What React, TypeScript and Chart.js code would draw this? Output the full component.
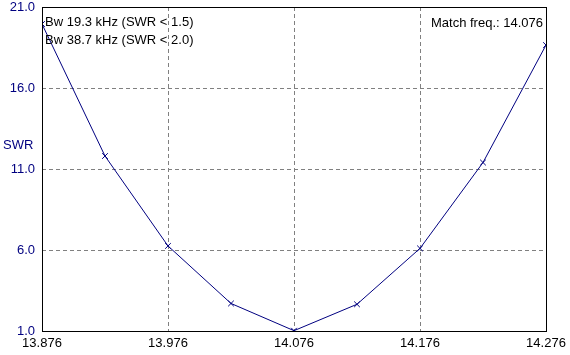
import React, { useEffect, useRef } from "react";
import { Chart, registerables } from "chart.js";

Chart.register(...registerables);

const freqs = [13.876, 13.926, 13.976, 14.026, 14.076, 14.126, 14.176, 14.226, 14.276];
const swr = [19.95, 11.8, 6.25, 2.7, 1.02, 2.65, 6.1, 11.4, 18.65];
const xTicks = [13.876, 13.976, 14.076, 14.176, 14.276];
const yTicks = [1, 6, 11, 16, 21];
const infoLines = ["Bw 19.3 kHz (SWR < 1.5)", "Bw 38.7 kHz (SWR < 2.0)"];
const matchText = "Match freq.: 14.076";
const yTitle = "SWR";

const FONT = "13px 'Liberation Sans', Arial, sans-serif";
const NAVY = "#000080";

export default function App() {
  const ref = useRef<HTMLCanvasElement | null>(null);
  useEffect(() => {
    document.body.style.margin = "0";
    const canvas = ref.current!;
    const overlay = {
      id: "overlay",
      afterDraw(chart: any) {
        const { ctx, chartArea: a } = chart;
        ctx.save();
        ctx.strokeStyle = "#000";
        ctx.lineWidth = 1;
        ctx.strokeRect(Math.round(a.left) + 0.5, Math.round(a.top) + 0.5, Math.round(a.right - a.left), Math.round(a.bottom - a.top));
        ctx.font = FONT;
        ctx.textBaseline = "middle";
        ctx.fillStyle = "#000";
        ctx.textAlign = "left";
        ctx.fillText(infoLines[0], a.left + 3, 22);
        ctx.fillText(infoLines[1], a.left + 3, 40);
        ctx.textAlign = "right";
        ctx.fillText(matchText, a.right - 3, 23);
        ctx.fillStyle = NAVY;
        ctx.textAlign = "left";
        ctx.fillText(yTitle, 3, 145);
        ctx.restore();
      },
    };
    const chart = new Chart(canvas, {
      type: "line",
      data: {
        datasets: [
          {
            data: freqs.map((f, i) => ({ x: f, y: swr[i] })),
            borderColor: NAVY,
            borderWidth: 1,
            pointStyle: "crossRot",
            pointRadius: 4,
            pointBorderColor: NAVY,
            pointBorderWidth: 1,
            tension: 0,
            fill: false,
          },
        ],
      },
      options: {
        responsive: false,
        animation: false,
        layout: { padding: { top: 7, right: 24, left: 0, bottom: 0 } },
        plugins: { legend: { display: false }, tooltip: { enabled: false } },
        scales: {
          x: {
            type: "linear",
            min: xTicks[0],
            max: xTicks[xTicks.length - 1],
            afterBuildTicks: (s: any) => {
              s.ticks = xTicks.map((v) => ({ value: v }));
            },
            afterFit: (s: any) => {
              s.height = 24;
              s.paddingLeft = 0;
              s.paddingRight = 0;
            },
            ticks: {
              color: "#000",
              font: { family: "'Liberation Sans', Arial, sans-serif", size: 13 },
              padding: 5,
              maxRotation: 0,
              autoSkip: false,
              callback: (v: any) => Number(v).toFixed(3),
            },
            grid: {
              drawTicks: false,
              color: (c: any) => (c.index === 0 || c.index === xTicks.length - 1 ? "rgba(0,0,0,0)" : "#808080"),
              lineWidth: 1,
            },
            border: { display: false, dash: [4, 3] },
          },
          y: {
            type: "linear",
            min: yTicks[0],
            max: yTicks[yTicks.length - 1],
            afterBuildTicks: (s: any) => {
              s.ticks = yTicks.map((v) => ({ value: v }));
            },
            afterFit: (s: any) => {
              s.width = 42;
              s.paddingTop = 0;
              s.paddingBottom = 0;
            },
            ticks: {
              color: NAVY,
              font: { family: "'Liberation Sans', Arial, sans-serif", size: 13 },
              padding: 7,
              autoSkip: false,
              callback: (v: any) => Number(v).toFixed(1),
            },
            grid: {
              drawTicks: false,
              color: (c: any) => (c.index === 0 || c.index === yTicks.length - 1 ? "rgba(0,0,0,0)" : "#808080"),
              lineWidth: 1,
            },
            border: { display: false, dash: [4, 3] },
          },
        },
      } as any,
      plugins: [overlay],
    });
    return () => chart.destroy();
  }, []);
  return <canvas ref={ref} width={570} height={355} style={{ display: "block" }} />;
}
